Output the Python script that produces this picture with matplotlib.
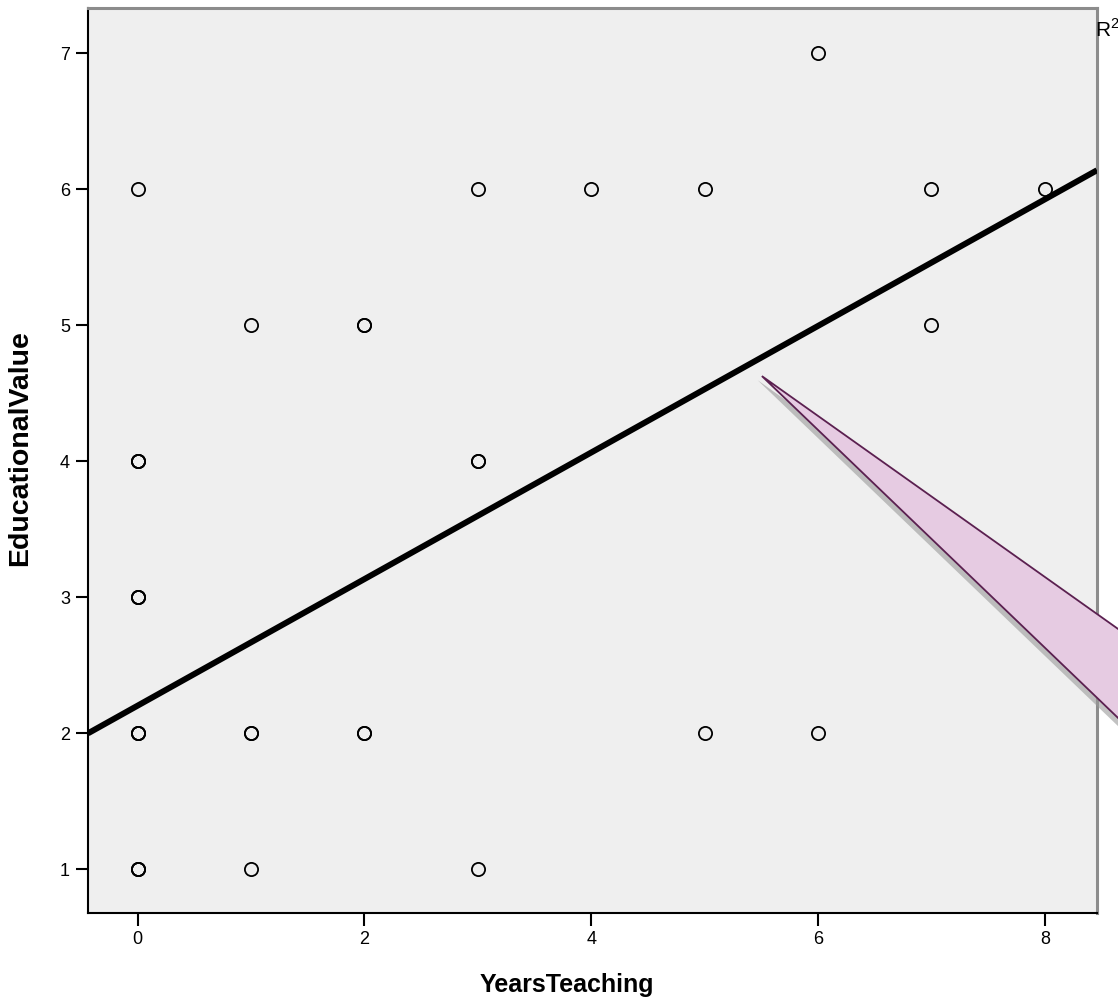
import numpy as np
import matplotlib.pyplot as plt
import matplotlib.patheffects as pe
from matplotlib.patches import Polygon

plt.rcParams['font.family'] = ['Liberation Sans', 'DejaVu Sans']
plt.rcParams['mathtext.fontset'] = 'custom'
plt.rcParams['mathtext.rm'] = 'Liberation Sans'

# years teaching vs educational value (repeated entries = overlapping cases)
years = [0, 0, 0, 0, 0, 0, 0, 0, 0, 0, 0, 0, 0,
         1, 1, 1, 1,
         2, 2, 2, 2,
         3, 3, 3, 3,
         4,
         5, 5,
         6, 6,
         7, 7,
         8]
edu_value = [6, 4, 4, 4, 3, 3, 3, 2, 2, 2, 1, 1, 1,
             5, 2, 2, 1,
             5, 5, 2, 2,
             6, 4, 4, 1,
             6,
             6, 2,
             7, 2,
             6, 5,
             6]

# linear fit line
fit_intercept = 2.204
fit_slope = 0.4653

x_ticks = [0, 2, 4, 6, 8]
y_ticks = [1, 2, 3, 4, 5, 6, 7]

fig = plt.figure(figsize=(11.18, 10.07), dpi=100)
ax = fig.add_axes([0.0787, 0.0933, 0.9025, 0.8987])
ax.set_facecolor('#efefef')

ax.set_xlim(-0.438, 8.46)
ax.set_ylim(0.679, 7.333)

ax.plot(years, edu_value, 'o', mfc='none', mec='black', ms=9.5, mew=1.3, zorder=3)

xx = np.array(ax.get_xlim())
ax.plot(xx, fit_intercept + fit_slope * xx, color='black', lw=4.3, zorder=4,
        solid_capstyle='butt')

# callout pointer
tip = (5.505, 4.627)
callout = Polygon([tip, (9.2, 2.44), (9.2, 1.67)], closed=True,
                  facecolor='#e6cbe2', edgecolor='#5b2050', lw=1.3,
                  clip_on=False, zorder=5)
callout.set_path_effects([pe.SimplePatchShadow(offset=(-3, -3), shadow_rgbFace='#9a9a9a', alpha=0.6),
                          pe.Normal()])
ax.add_patch(callout)

ax.set_xticks(x_ticks)
ax.set_yticks(y_ticks)
ax.tick_params(direction='out', length=9, width=1.5, labelsize=13, pad=4, color='black')

for s in ['left', 'bottom']:
    ax.spines[s].set_color('black')
    ax.spines[s].set_linewidth(1.5)
for s in ['top', 'right']:
    ax.spines[s].set_color('#8c8c8c')
    ax.spines[s].set_linewidth(2.2)

ax.set_xlabel('YearsTeaching', fontsize=18, fontweight='bold')
ax.set_ylabel('EducationalValue', fontsize=20.5, fontweight='bold')
ax.xaxis.set_label_coords(0.475, -0.066)
ax.yaxis.set_label_coords(-0.0545, 0.514)

fig.text(1095 / 1118, 1 - 30 / 1007, r'R$^2$', fontsize=15, va='center', ha='left')

fig.savefig('out.png', dpi=100)
